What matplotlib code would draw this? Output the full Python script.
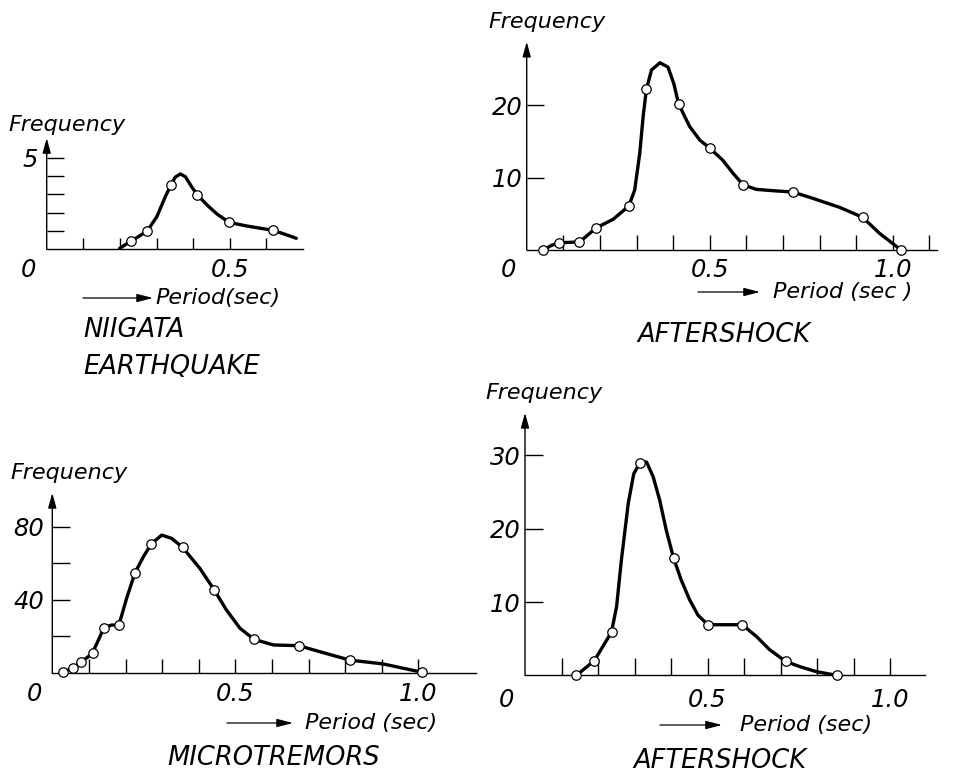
import numpy as np
import matplotlib
matplotlib.use('Agg')
import matplotlib.pyplot as plt
from matplotlib.transforms import offset_copy

# Figure size in pixels (dpi 100)
W, H = 963, 778

# ---- Data ----
# Niigata earthquake
niigata_curve_x = [0.199, 0.230, 0.274, 0.301, 0.324, 0.339, 0.351, 0.365, 0.379, 0.397,
                   0.412, 0.438, 0.465, 0.498, 0.547, 0.617, 0.648, 0.682]
niigata_curve_y = [0.05, 0.44, 0.98, 1.78, 2.87, 3.49, 3.93, 4.11, 3.96, 3.38,
                   2.96, 2.42, 1.93, 1.47, 1.27, 1.04, 0.84, 0.60]
niigata_pts_x = [0.230, 0.274, 0.339, 0.412, 0.498, 0.617]
niigata_pts_y = [0.44, 0.98, 3.49, 2.96, 1.47, 1.04]
niigata_xticks = [0.1, 0.2, 0.3, 0.4, 0.5, 0.6]
niigata_xticklabels = ['', '', '', '', '0.5', '']
niigata_yticks = [1, 2, 3, 4, 5]
niigata_yticklabels = ['', '', '', '', '5']

# Aftershock (top)
after1_curve_x = [0.045, 0.068, 0.089, 0.118, 0.144, 0.164, 0.189, 0.236, 0.279, 0.295,
                  0.309, 0.318, 0.327, 0.341, 0.364, 0.386, 0.402, 0.415, 0.445, 0.473,
                  0.500, 0.536, 0.564, 0.591, 0.627, 0.673, 0.727, 0.782, 0.855, 0.918,
                  0.964, 1.023]
after1_curve_y = [0.0, 0.65, 1.01, 1.06, 1.11, 1.94, 3.04, 4.24, 6.08, 8.29,
                  13.4, 18.4, 22.2, 24.9, 25.9, 25.3, 23.0, 20.2, 17.1, 15.2,
                  14.1, 12.4, 10.6, 9.03, 8.39, 8.2, 8.02, 7.14, 5.9, 4.52,
                  2.3, 0.0]
after1_pts_x = [0.045, 0.089, 0.144, 0.189, 0.279, 0.327, 0.415, 0.500, 0.591, 0.727, 0.918, 1.023]
after1_pts_y = [0.0, 1.0, 1.1, 3.0, 6.1, 22.2, 20.2, 14.1, 9.0, 8.0, 4.5, 0.0]
after1_xticks = [0.1, 0.2, 0.3, 0.4, 0.5, 0.6, 0.7, 0.8, 0.9, 1.0, 1.1]
after1_xticklabels = ['', '', '', '', '0.5', '', '', '', '', '1.0', '']
after1_yticks = [10, 20]
after1_yticklabels = ['10', '20']

# Microtremors
micro_curve_x = [0.028, 0.057, 0.078, 0.096, 0.110, 0.126, 0.141, 0.162, 0.182, 0.203,
                 0.226, 0.249, 0.271, 0.299, 0.326, 0.356, 0.403, 0.442, 0.476, 0.513,
                 0.551, 0.604, 0.674, 0.731, 0.813, 0.904, 1.011]
micro_curve_y = [0.4, 2.4, 6.0, 8.4, 11.0, 17.9, 24.7, 26.1, 26.1, 40.7,
                 54.8, 63.6, 70.7, 75.4, 73.6, 68.7, 57.2, 45.5, 34.3, 24.3,
                 18.3, 15.2, 14.8, 11.5, 6.9, 4.8, 0.2]
micro_pts_x = [0.028, 0.057, 0.078, 0.110, 0.141, 0.182, 0.226, 0.271, 0.356, 0.442,
               0.551, 0.674, 0.813, 1.011]
micro_pts_y = [0.4, 2.4, 6.0, 11.0, 24.7, 26.1, 54.8, 70.7, 68.7, 45.5,
               18.3, 14.8, 6.9, 0.2]
micro_xticks = [0.1, 0.2, 0.3, 0.4, 0.5, 0.6, 0.7, 0.8, 0.9, 1.0]
micro_xticklabels = ['', '', '', '', '0.5', '', '', '', '', '1.0']
micro_yticks = [20, 40, 60, 80]
micro_yticklabels = ['', '40', '', '80']

# Aftershock (bottom)
after2_curve_x = [0.141, 0.190, 0.237, 0.251, 0.264, 0.283, 0.298, 0.314, 0.333, 0.351,
                  0.369, 0.387, 0.407, 0.428, 0.451, 0.474, 0.501, 0.552, 0.595, 0.634,
                  0.670, 0.714, 0.752, 0.798, 0.854]
after2_curve_y = [0.0, 2.0, 5.9, 9.4, 15.7, 23.5, 27.5, 28.9, 29.1, 27.1,
                  23.9, 19.8, 16.0, 13.0, 10.3, 8.2, 6.9, 6.9, 6.9, 5.3,
                  3.5, 1.9, 1.2, 0.5, 0.0]
after2_pts_x = [0.141, 0.190, 0.237, 0.314, 0.407, 0.501, 0.595, 0.714, 0.854]
after2_pts_y = [0.0, 2.0, 5.9, 28.9, 16.0, 6.9, 6.9, 1.9, 0.0]
after2_xticks = [0.1, 0.2, 0.3, 0.4, 0.5, 0.6, 0.7, 0.8, 0.9, 1.0]
after2_xticklabels = ['', '', '', '', '0.5', '', '', '', '', '1.0']
after2_yticks = [10, 20, 30]
after2_yticklabels = ['10', '20', '30']

plt.rcParams['font.family'] = ['DejaVu Sans']
plt.rcParams['font.style'] = 'oblique'

TEXT_SIZE = 16
TICK_SIZE = 17.5
TITLE_SIZE = 18.5


def px(x, y):
    """pixel position (from top-left) -> figure fraction"""
    return x / W, 1 - y / H


def make_panel(fig, origin, xmax, ymax, sx, sy, xticks, xticklabels, yticks, yticklabels,
               xtick_len, ytick_len, xpad, ypad):
    ox, oy = origin
    rect = [ox / W, 1 - oy / H, xmax * sx / W, ymax * sy / H]
    ax = fig.add_axes(rect)
    ax.set_xlim(0, xmax)
    ax.set_ylim(0, ymax)
    for side in ['top', 'right', 'left']:
        ax.spines[side].set_visible(False)
    ax.spines['bottom'].set_linewidth(1.0)
    ax.patch.set_alpha(0)

    ax.set_xticks(xticks)
    ax.set_xticklabels(xticklabels, fontsize=TICK_SIZE, style='oblique')
    ax.set_yticks(yticks)
    ax.set_yticklabels(yticklabels, fontsize=TICK_SIZE, style='oblique')
    ax.tick_params(axis='x', direction='in', length=xtick_len, width=1.0, pad=xpad)
    ax.tick_params(axis='y', direction='in', length=ytick_len, width=1.0, pad=ypad)

    # y axis drawn as an arrow
    ax.annotate('', xy=(0, 1), xytext=(0, 0), xycoords='axes fraction',
                arrowprops=dict(arrowstyle='-|>,head_length=0.9,head_width=0.25',
                                lw=1.0, color='black', shrinkA=0, shrinkB=0))

    # origin label, left of the axis
    tr = offset_copy(ax.get_xaxis_transform(), fig=fig, y=-xpad, units='points')
    ax.text(-0.05, 0, '0', transform=tr, ha='center', va='top',
            fontsize=TICK_SIZE, style='oblique')
    return ax


def draw_curve(ax, cx, cy, mx, my):
    ax.plot(cx, cy, color='black', linewidth=2.4, solid_capstyle='round',
            solid_joinstyle='round', clip_on=False, zorder=3)
    ax.plot(mx, my, linestyle='none', marker='o', markersize=6.8,
            markerfacecolor='white', markeredgecolor='black', markeredgewidth=0.9,
            clip_on=False, zorder=4)


def period_arrow(fig, x0, x1, y, text, tx):
    a, b = px(x0, y)
    c, d = px(x1, y)
    fig.patches.append(matplotlib.patches.FancyArrowPatch(
        (a, b), (c, d), transform=fig.transFigure,
        arrowstyle='-|>,head_length=0.7,head_width=0.18', lw=0.9,
        color='black', shrinkA=0, shrinkB=0, mutation_scale=14))
    fig.text(*px(tx, y), text, ha='left', va='center', fontsize=TEXT_SIZE, style='oblique')


fig = plt.figure(figsize=(W / 100, H / 100), dpi=100)

# Niigata earthquake
ax1 = make_panel(fig, (46.7, 249.3), 0.7, 6.07, 366, 18.33,
                 niigata_xticks, niigata_xticklabels, niigata_yticks, niigata_yticklabels,
                 8, 12, 6, 6)
draw_curve(ax1, niigata_curve_x, niigata_curve_y, niigata_pts_x, niigata_pts_y)
fig.text(*px(8, 125), 'Frequency', ha='left', va='center', fontsize=TEXT_SIZE)
period_arrow(fig, 83, 153, 298, 'Period(sec)', 155)
fig.text(*px(83, 330), 'NIIGATA', ha='left', va='center', fontsize=TITLE_SIZE)
fig.text(*px(83, 367), 'EARTHQUAKE', ha='left', va='center', fontsize=TITLE_SIZE)

# Aftershock (top)
ax2 = make_panel(fig, (526.7, 250), 1.12, 28.8, 366, 7.23,
                 after1_xticks, after1_xticklabels, after1_yticks, after1_yticklabels,
                 11, 12, 6, 3)
draw_curve(ax2, after1_curve_x, after1_curve_y, after1_pts_x, after1_pts_y)
fig.text(*px(488, 22), 'Frequency', ha='left', va='center', fontsize=TEXT_SIZE)
period_arrow(fig, 698, 760, 292, 'Period (sec )', 773)
fig.text(*px(637, 335), 'AFTERSHOCK', ha='left', va='center', fontsize=TITLE_SIZE)

# Microtremors
ax3 = make_panel(fig, (52.3, 672.7), 1.158, 98.5, 366, 1.825,
                 micro_xticks, micro_xticklabels, micro_yticks, micro_yticklabels,
                 10, 13, 7, 6)
draw_curve(ax3, micro_curve_x, micro_curve_y, micro_pts_x, micro_pts_y)
fig.text(*px(10, 473), 'Frequency', ha='left', va='center', fontsize=TEXT_SIZE)
period_arrow(fig, 227, 293, 723, 'Period (sec)', 305)
fig.text(*px(167, 758), 'MICROTREMORS', ha='left', va='center', fontsize=TITLE_SIZE)

# Aftershock (bottom)
ax4 = make_panel(fig, (525, 675.3), 1.095, 35.8, 365, 7.33,
                 after2_xticks, after2_xticklabels, after2_yticks, after2_yticklabels,
                 12, 13, 9, 3)
draw_curve(ax4, after2_curve_x, after2_curve_y, after2_pts_x, after2_pts_y)
fig.text(*px(485, 393), 'Frequency', ha='left', va='center', fontsize=TEXT_SIZE)
period_arrow(fig, 660, 722, 725, 'Period (sec)', 740)
fig.text(*px(633, 761), 'AFTERSHOCK', ha='left', va='center', fontsize=TITLE_SIZE)

fig.savefig('out.png', dpi=100)
